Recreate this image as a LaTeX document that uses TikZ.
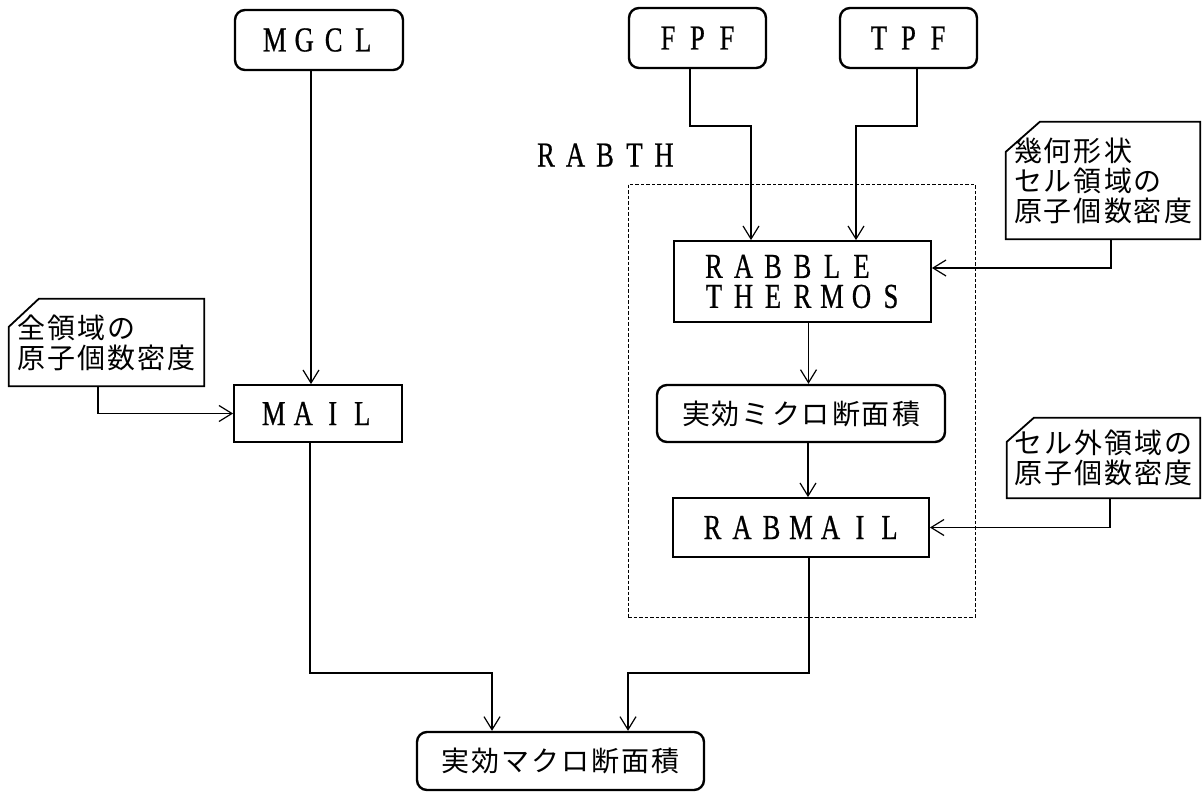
\documentclass[tikz,border=0pt]{standalone}
\usepackage{fontspec}
\newfontfamily\jpfont{Noto Sans CJK JP}
\newfontfamily\latfont[FakeStretch=0.76,FakeBold=0.6]{Liberation Serif}
\usetikzlibrary{arrows.meta}
\makeatletter
\newcommand\pitched[2]{\@tfor\pitchchar:=#2\do{\makebox[#1]{\pitchchar}}}
\makeatother
\newcommand\latcells[1]{\pitched{29.5pt}{#1}}
\newcommand\jpcells[1]{\pitched{30pt}{#1}}
\tikzset{
  ltext/.style={font=\latfont\fontsize{35}{30}\selectfont},
  jtext/.style={font=\jpfont\fontsize{28}{30}\selectfont},
  rbox/.style={draw, line width=2.4pt, rounded corners=10pt, inner sep=0pt},
  sbox/.style={draw, line width=1.8pt, inner sep=0pt},
  callout/.style={line width=1.8pt},
  dashbox/.style={draw, line width=0.9pt, dash pattern=on 3.5pt off 2pt, inner sep=0pt},
  arr/.style={line width=1.2pt, -{Straight Barb[length=13pt,width=16pt,line width=1.2pt]}},
}
\begin{document}
\begin{tikzpicture}[x=1pt,y=-1pt]
\fill[white] (0,0) rectangle (1202,792);
\useasboundingbox (0,0) rectangle (1202,792);

% group frame
\node[dashbox, minimum width=347pt, minimum height=433pt] (rabthbox) at (801.5,400.5) {};
\node[ltext, inner sep=0pt] (rabth) at (605,155) {\latcells{RABTH}};

% boxes
\node[rbox, ltext, minimum width=168pt, minimum height=60pt] (mgcl) at (319,40) {\latcells{MGCL}};
\node[rbox, ltext, minimum width=137pt, minimum height=60pt] (fpf) at (697.5,38) {\latcells{FPF}};
\node[rbox, ltext, minimum width=137pt, minimum height=60pt] (tpf) at (908.5,38) {\latcells{TPF}};
\node[sbox, ltext, minimum width=168pt, minimum height=57pt] (mail) at (318,413.5) {\latcells{MAIL}};
\node[sbox, ltext, align=left, minimum width=257pt, minimum height=81pt] (rabble) at (802.5,281.5) {\latcells{RABBLE}\\\latcells{THERMOS}};
\node[rbox, jtext, minimum width=288pt, minimum height=57pt] (mikuro) at (801,413.5) {\jpcells{実効ミクロ断面積}};
\node[sbox, ltext, minimum width=256pt, minimum height=59pt] (rabmail) at (801,527.5) {\latcells{RABMAIL}};
\node[rbox, jtext, minimum width=287pt, minimum height=58pt] (makuro) at (560.5,761) {\jpcells{実効マクロ断面積}};

% callouts
\node[jtext, align=left, inner sep=0pt, minimum width=195pt, minimum height=87pt] (cl) at (106.5,342.5) {\jpcells{全領域の}\\\jpcells{原子個数密度}};
\draw[callout] ([yshift=-28pt]cl.north west) -- ([xshift=30pt]cl.north west) -- (cl.north east) -- (cl.south east) -- (cl.south west) -- cycle;

\node[jtext, align=left, inner sep=0pt, minimum width=194pt, minimum height=117pt] (tr) at (1103,180.5) {\jpcells{幾何形状}\\\jpcells{セル領域の}\\\jpcells{原子個数密度}};
\draw[callout] ([yshift=-30pt]tr.north west) -- ([xshift=34pt]tr.north west) -- (tr.north east) -- (tr.south east) -- (tr.south west) -- cycle;

\node[jtext, align=left, inner sep=0pt, minimum width=193pt, minimum height=80pt] (br) at (1103.5,458) {\jpcells{セル外領域の}\\\jpcells{原子個数密度}};
\draw[callout] ([yshift=-24pt]br.north west) -- ([xshift=27pt]br.north west) -- (br.north east) -- (br.south east) -- (br.south west) -- cycle;

% bend points
\coordinate (bend1) at (751,126);
\coordinate (bend2) at (856,126);
\coordinate (bend3) at (492,673);
\coordinate (bend4) at (628,673);

% connectors
\draw[arr] ([xshift=-8pt]mgcl.south) -- ([xshift=-8pt]mgcl.south |- mail.north);
\draw[arr] ([xshift=-8.5pt]cl.south) |- (mail.west);
\draw[arr] ([xshift=-7.5pt]fpf.south) |- (bend1) -- (bend1 |- rabble.north);
\draw[arr] ([xshift=8.5pt]tpf.south) |- (bend2) -- (bend2 |- rabble.north);
\draw[arr] ([xshift=8pt]tr.south) |- ([yshift=13.5pt]rabble.east);
\draw[arr] ([xshift=6pt]rabble.south) -- ([xshift=6pt]rabble.south |- mikuro.north);
\draw[arr] ([xshift=7pt]mikuro.south) -- ([xshift=7pt]mikuro.south |- rabmail.north);
\draw[arr] ([xshift=6.5pt]br.south) |- (rabmail.east);
\draw[arr] ([xshift=-8pt]mail.south) |- (bend3) -- (bend3 |- makuro.north);
\draw[arr] ([xshift=8pt]rabmail.south) |- (bend4) -- (bend4 |- makuro.north);
\end{tikzpicture}
\end{document}
